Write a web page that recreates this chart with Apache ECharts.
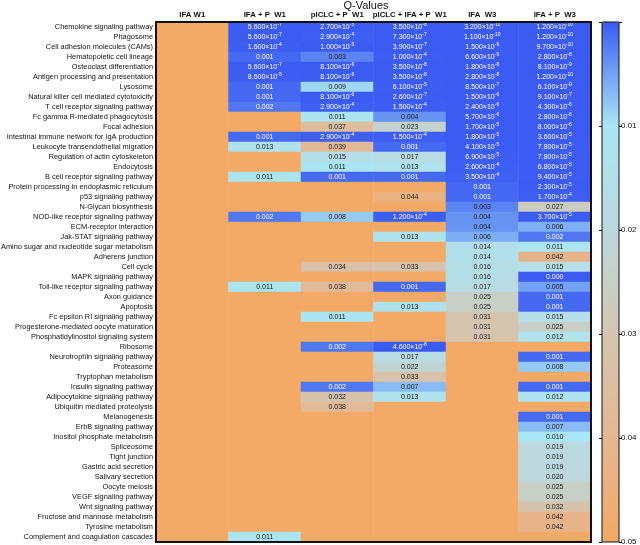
<!DOCTYPE html>
<html>
<head>
<meta charset="utf-8">
<script src="https://cdn.jsdelivr.net/npm/echarts@6/dist/echarts.min.js"></script>
<style>
  html, body { margin: 0; padding: 0; background: #fff; }
  #chart { width: 640px; height: 545px; }
</style>
</head>
<body>
<div id="chart"></div>
<script>
// NS = not significant (blank cell in the table)
const NS = null;

const pathways = [
  'Chemokine signaling pathway', 'Phagosome', 'Cell adhesion molecules (CAMs)',
  'Hematopoietic cell lineage', 'Osteoclast differentiation', 'Antigen processing and presentation',
  'Lysosome', 'Natural killer cell mediated cytotoxicity', 'T cell receptor signaling pathway',
  'Fc gamma R-mediated phagocytosis', 'Focal adhesion', 'Intestinal immune network for IgA production',
  'Leukocyte transendothelial migration', 'Regulation of actin cytoskeleton', 'Endocytosis',
  'B cell receptor signaling pathway', 'Protein processing in endoplasmic reticulum', 'p53 signaling pathway',
  'N-Glycan biosynthesis', 'NOD-like receptor signaling pathway', 'ECM-receptor interaction',
  'Jak-STAT signaling pathway', 'Amino sugar and nucleotide sugar metabolism', 'Adherens junction',
  'Cell cycle', 'MAPK signaling pathway', 'Toll-like receptor signaling pathway',
  'Axon guidance', 'Apoptosis', 'Fc epsilon RI signaling pathway',
  'Progesterone-mediated oocyte maturation', 'Phosphatidylinositol signaling system', 'Ribosome',
  'Neurotrophin signaling pathway', 'Proteasome', 'Tryptophan metabolism',
  'Insulin signaling pathway', 'Adipocytokine signaling pathway', 'Ubiquitin mediated proteolysis',
  'Melanogenesis', 'ErbB signaling pathway', 'Inositol phosphate metabolism',
  'Spliceosome', 'Tight junction', 'Gastric acid secretion',
  'Salivary secretion', 'Oocyte meiosis', 'VEGF signaling pathway',
  'Wnt signaling pathway', 'Fructose and mannose metabolism', 'Tyrosine metabolism',
  'Complement and coagulation cascades'
];

const groups = ['IFA W1', 'IFA + P  W1', 'pICLC + P  W1', 'pICLC + IFA + P  W1', 'IFA  W3', 'IFA + P  W3'];

const ifaW1 = [
  NS, NS, NS, NS, NS, NS, NS, NS, NS, NS,
  NS, NS, NS, NS, NS, NS, NS, NS, NS, NS,
  NS, NS, NS, NS, NS, NS, NS, NS, NS, NS,
  NS, NS, NS, NS, NS, NS, NS, NS, NS, NS,
  NS, NS, NS, NS, NS, NS, NS, NS, NS, NS,
  NS, NS
];
const ifaPW1 = [
  5.6e-7, 5.6e-7, 1.6e-4, 0.001, 5.6e-7, 8.6e-5, 0.001, 0.001, 0.002, NS,
  NS, 0.001, 0.013, NS, NS, 0.011, NS, NS, NS, 0.002,
  NS, NS, NS, NS, NS, NS, 0.011, NS, NS, NS,
  NS, NS, NS, NS, NS, NS, NS, NS, NS, NS,
  NS, NS, NS, NS, NS, NS, NS, NS, NS, NS,
  NS, 0.011
];
const picPW1 = [
  2.7e-5, 2.9e-4, 1.0e-5, 0.003, 8.1e-6, 8.1e-6, 0.009, 8.1e-6, 2.9e-4, 0.011,
  0.037, 2.9e-4, 0.039, 0.015, 0.011, 0.001, NS, NS, NS, 0.008,
  NS, NS, NS, NS, 0.034, NS, 0.038, NS, NS, 0.011,
  NS, NS, 0.002, NS, NS, NS, 0.002, 0.032, 0.038, NS,
  NS, NS, NS, NS, NS, NS, NS, NS, NS, NS,
  NS, NS
];
const picIfaPW1 = [
  3.5e-8, 7.3e-7, 3.9e-7, 1.0e-4, 3.5e-8, 3.5e-8, 6.1e-5, 2.6e-7, 1.5e-4, 0.004,
  0.023, 1.5e-4, 0.001, 0.017, 0.013, 0.001, NS, 0.044, NS, 1.2e-4,
  NS, 0.013, NS, NS, 0.033, NS, 0.001, NS, 0.013, NS,
  NS, NS, 4.6e-8, 0.017, 0.022, 0.033, 0.007, 0.013, NS, NS,
  NS, NS, NS, NS, NS, NS, NS, NS, NS, NS,
  NS, NS
];
const ifaW3 = [
  3.2e-11, 1.1e-10, 1.5e-9, 6.6e-9, 1.8e-8, 2.8e-8, 8.5e-7, 1.5e-6, 2.4e-6, 5.7e-6,
  1.7e-5, 1.8e-5, 4.1e-5, 6.9e-5, 2.6e-4, 3.5e-4, 0.001, 0.001, 0.003, 0.004,
  0.004, 0.006, 0.014, 0.014, 0.016, 0.016, 0.017, 0.025, 0.025, 0.031,
  0.031, 0.031, NS, NS, NS, NS, NS, NS, NS, NS,
  NS, NS, NS, NS, NS, NS, NS, NS, NS, NS,
  NS, NS
];
const ifaPW3 = [
  1.2e-10, 1.2e-10, 9.7e-10, 2.8e-8, 8.1e-9, 1.2e-10, 6.1e-9, 9.1e-7, 4.3e-6, 2.8e-6,
  8.0e-6, 3.6e-5, 7.8e-5, 7.8e-5, 6.8e-5, 9.4e-5, 2.3e-5, 1.7e-4, 0.027, 3.7e-5,
  0.006, 0.002, 0.011, 0.042, 0.015, 0, 0.005, 0.001, 0.001, 0.015,
  0.025, 0.012, NS, 0.001, 0.008, NS, 0.001, 0.012, NS, 0.001,
  0.007, 0.010, 0.019, 0.019, 0.019, 0.020, 0.025, 0.025, 0.032, 0.042,
  0.042, NS
];

const columns = [ifaW1, ifaPW1, picPW1, picIfaPW1, ifaW3, ifaPW3];
const scaleTicks = [0.01, 0.02, 0.03, 0.04, 0.05];
const qMax = 0.05;

const FONT = '"Liberation Sans", Arial, sans-serif';

// build heatmap cells; blank (NS) cells take the top of the scale
let cells = [];
columns.forEach((col, ci) => {
  col.forEach((v, ri) => {
    if (v === NS) {
      cells.push({ value: [ci, ri, qMax], ns: true });
    } else {
      cells.push({
        value: [ci, ri, v],
        label: { color: v < 0.003 ? '#ffffff' : '#1a1a1a' }
      });
    }
  });
});

function fmtQ(p) {
  if (p.data.ns) return '';
  let v = p.value[2];
  if (v > 0 && v < 0.0009) {
    let parts = v.toExponential(3).split('e');
    return '{m|' + parts[0] + '×10}{s|' + parts[1] + '}';
  }
  return '{m|' + v.toFixed(3) + '}';
}

let chart = echarts.init(document.getElementById('chart'));
chart.setOption({
  animation: false,
  textStyle: { fontFamily: FONT },
  graphic: [{
    type: 'text',
    x: 366, y: 0,
    style: { text: 'Q-Values', font: '11px ' + FONT, fill: '#111', textAlign: 'center' }
  }],
  grid: [
    { left: 156, right: 49, top: 22, bottom: 3, show: true, z: 10,
      outerBoundsMode: 'none', containLabel: false,
      borderColor: '#111', borderWidth: 2, backgroundColor: 'transparent' },
    { left: 602, top: 22, width: 17, bottom: 3, show: true, z: 10,
      outerBoundsMode: 'none', containLabel: false,
      borderColor: '#111', borderWidth: 1, backgroundColor: 'transparent' }
  ],
  xAxis: [
    {
      type: 'category', data: groups, position: 'top', gridIndex: 0,
      axisLine: { show: false }, axisTick: { show: false },
      axisLabel: { fontSize: 7.8, fontWeight: 'bold', color: '#111', margin: 3, interval: 0 }
    },
    { type: 'value', gridIndex: 1, show: false, min: 0, max: 1 }
  ],
  yAxis: [
    {
      type: 'category', data: pathways, inverse: true, gridIndex: 0,
      axisLine: { show: false }, axisTick: { show: false },
      axisLabel: { fontSize: 7.4, color: '#111', margin: 3, interval: 0 }
    },
    {
      type: 'value', gridIndex: 1, min: 0, max: qMax, interval: 0.01, inverse: true,
      position: 'left', axisLine: { show: false },
      axisTick: { show: true, length: 3, lineStyle: { color: '#111' } },
      axisLabel: { show: false }, splitLine: { show: false }
    },
    {
      type: 'value', gridIndex: 1, min: 0, max: qMax, interval: 0.01, inverse: true,
      position: 'right', axisLine: { show: false },
      axisTick: { show: true, length: 3, lineStyle: { color: '#111' } },
      axisLabel: {
        fontSize: 8, color: '#111', margin: 2,
        formatter: v => scaleTicks.some(t => Math.abs(t - v) < 1e-9) ? v.toFixed(2) : ''
      },
      splitLine: { show: false }
    }
  ],
  visualMap: {
    type: 'continuous', min: 0, max: qMax, inverse: true,
    left: 602, top: 22, itemWidth: 17, itemHeight: 520, padding: 0,
    calculable: false, hoverLink: false, seriesIndex: 0,
    inRange: { color: ['#3b5bf3', '#aae6f4', '#bdd7dc', '#d3c6b2', '#e4b793', '#f2aa66'] }
  },
  series: [{
    type: 'heatmap',
    xAxisIndex: 0, yAxisIndex: 0,
    data: cells,
    itemStyle: { borderWidth: 0 },
    emphasis: { disabled: true },
    label: {
      show: true,
      formatter: fmtQ,
      rich: {
        m: { fontSize: 7, fontFamily: FONT, lineHeight: 9 },
        s: { fontSize: 5, fontFamily: FONT, verticalAlign: 'top', lineHeight: 9 }
      }
    }
  }]
});
</script>
</body>
</html>
